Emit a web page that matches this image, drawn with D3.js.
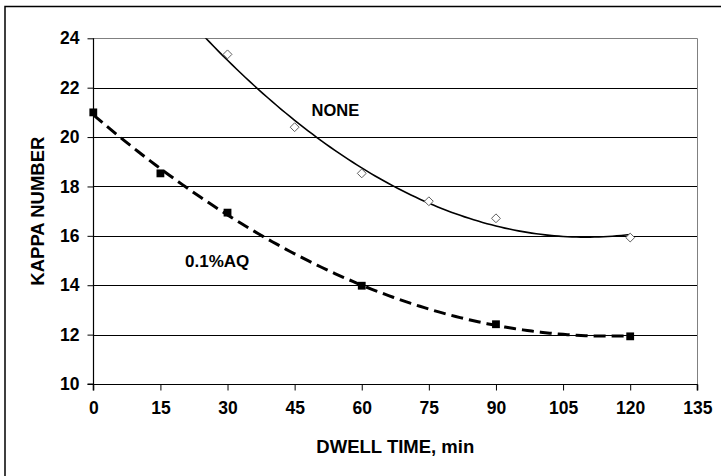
<!DOCTYPE html>
<html>
<head>
<meta charset="utf-8">
<script src="https://cdn.jsdelivr.net/npm/d3@7"></script>
<style>
  body { margin: 0; background: #fff; }
  svg text { font-family: Arial, "Liberation Sans", sans-serif; font-weight: bold; fill: #000; }
</style>
</head>
<body>
<svg id="chart" width="721" height="476"></svg>
<script>
// dwell time (min) and kappa number
var aqTime = [0, 15, 30, 60, 90, 120];
var aqKappa = [21, 18.53, 16.94, 13.98, 12.42, 11.93];
var noneTime = [30, 45, 60, 75, 90, 120];
var noneKappa = [23.35, 20.4, 18.53, 17.4, 16.71, 15.93];
var xTicks = [0, 15, 30, 45, 60, 75, 90, 105, 120, 135];
var yTicks = [10, 12, 14, 16, 18, 20, 22, 24];

var svg = d3.select("#chart");
var plot = {left: 93.3, top: 38.3, right: 697.3, bottom: 384};

var x = d3.scaleLinear().domain([0, 135]).range([plot.left, plot.right]);
var y = d3.scaleLinear().domain([10, 24]).range([plot.bottom, plot.top]);

// second order polynomial trendline, least squares (as the spreadsheet does)
function quadFit(xs, ys) {
    var s = [0, 0, 0, 0, 0], t = [0, 0, 0];
    xs.forEach(function (xv, i) {
        for (var k = 0; k < 5; k++) s[k] += Math.pow(xv, k);
        for (var k = 0; k < 3; k++) t[k] += Math.pow(xv, k) * ys[i];
    });
    var m = [[s[0], s[1], s[2], t[0]], [s[1], s[2], s[3], t[1]], [s[2], s[3], s[4], t[2]]];
    for (var i = 0; i < 3; i++) {
        for (var j = i + 1; j < 3; j++) {
            var f = m[j][i] / m[i][i];
            for (var k = i; k < 4; k++) m[j][k] -= f * m[i][k];
        }
    }
    var c = [0, 0, 0];
    for (var i = 2; i >= 0; i--) {
        var v = m[i][3];
        for (var k = i + 1; k < 3; k++) v -= m[i][k] * c[k];
        c[i] = v / m[i][i];
    }
    return function (xv) { return c[0] + c[1] * xv + c[2] * xv * xv; };
}

// outer chart border (runs off the right and bottom of the picture)
svg.append("rect").attr("x", 5).attr("y", 6.5).attr("width", 730).attr("height", 490)
    .attr("fill", "none").attr("stroke", "#000").attr("stroke-width", 1.5);

svg.append("clipPath").attr("id", "plotclip").append("rect")
    .attr("x", plot.left).attr("y", plot.top)
    .attr("width", plot.right - plot.left).attr("height", plot.bottom - plot.top);

// grid lines
svg.append("g").selectAll("line").data(yTicks.filter(function (d) { return d > 10 && d < 24; }))
    .enter().append("line")
    .attr("x1", plot.left).attr("x2", plot.right)
    .attr("y1", function (d) { return Math.round(y(d)) + 0.5; })
    .attr("y2", function (d) { return Math.round(y(d)) + 0.5; })
    .attr("stroke", "#000").attr("stroke-width", 1);

// plot area border (grey top and right)
svg.append("path")
    .attr("d", "M" + plot.left + "," + (Math.round(plot.top) + 0.5) + "H" + (Math.round(plot.right) + 0.5) + "V" + plot.bottom)
    .attr("fill", "none").attr("stroke", "#808080").attr("stroke-width", 1);

// axes
var xAxis = d3.axisBottom(x).tickValues(xTicks).tickSize(6).tickPadding(11);
var yAxis = d3.axisLeft(y).tickValues(yTicks).tickSize(6).tickPadding(8);

var gx = svg.append("g").attr("transform", "translate(0," + (Math.round(plot.bottom) + 0.5) + ")").call(xAxis);
var gy = svg.append("g").attr("transform", "translate(" + (Math.round(plot.left) + 0.5) + ",0)").call(yAxis);
[gx, gy].forEach(function (g) {
    g.select(".domain").attr("stroke", "#000").attr("stroke-width", 1.2);
    g.selectAll(".tick line").attr("stroke", "#000");
    g.selectAll(".tick text").style("font-size", "17.5px").style("font-family", "Arial, 'Liberation Sans', sans-serif")
        .style("font-weight", "bold").attr("fill", "#000");
});
gx.select(".domain").attr("d", "M" + x(0) + ",6V0H" + x(135) + "V6");
gy.select(".domain").attr("d", "M-6," + y(10) + "H0V" + y(24));

// trendlines
var fitAQ = quadFit(aqTime, aqKappa);
var fitNone = quadFit(noneTime, noneKappa);
var span = d3.range(0, 120.5, 1);
var line = d3.line().x(function (d) { return x(d[0]); }).y(function (d) { return y(d[1]); });

svg.append("path")
    .attr("d", line(span.map(function (t) { return [t, fitNone(t)]; })))
    .attr("clip-path", "url(#plotclip)")
    .attr("fill", "none").attr("stroke", "#000").attr("stroke-width", 1.6);

svg.append("path")
    .attr("d", line(span.map(function (t) { return [t, fitAQ(t)]; })))
    .attr("clip-path", "url(#plotclip)")
    .attr("fill", "none").attr("stroke", "#000").attr("stroke-width", 3)
    .attr("stroke-dasharray", "12,6");

// markers
svg.append("g").selectAll("path").data(noneTime).enter().append("path")
    .attr("d", d3.symbol().type(d3.symbolDiamond2).size(50))
    .attr("transform", function (d, i) { return "translate(" + x(d) + "," + y(noneKappa[i]) + ")"; })
    .attr("fill", "#fff").attr("stroke", "#606060").attr("stroke-width", 1);

svg.append("g").selectAll("rect").data(aqTime).enter().append("rect")
    .attr("x", function (d) { return x(d) - 3.9; })
    .attr("y", function (d, i) { return y(aqKappa[i]) - 3.9; })
    .attr("width", 7.8).attr("height", 7.8)
    .attr("fill", "#000");

// series labels
svg.append("text").attr("x", 311.5).attr("y", 116).style("font-size", "16.5px").text("NONE");
svg.append("text").attr("x", 185).attr("y", 266.5).style("font-size", "17px").text("0.1%AQ");

// axis titles
svg.append("text").attr("x", (plot.left + plot.right) / 2).attr("y", 453)
    .attr("text-anchor", "middle").style("font-size", "18.5px").text("DWELL TIME, min");
svg.append("text").attr("transform", "translate(43.5," + ((plot.top + plot.bottom) / 2) + ") rotate(-90)")
    .attr("text-anchor", "middle").style("font-size", "18.5px").text("KAPPA NUMBER");
</script>
</body>
</html>
